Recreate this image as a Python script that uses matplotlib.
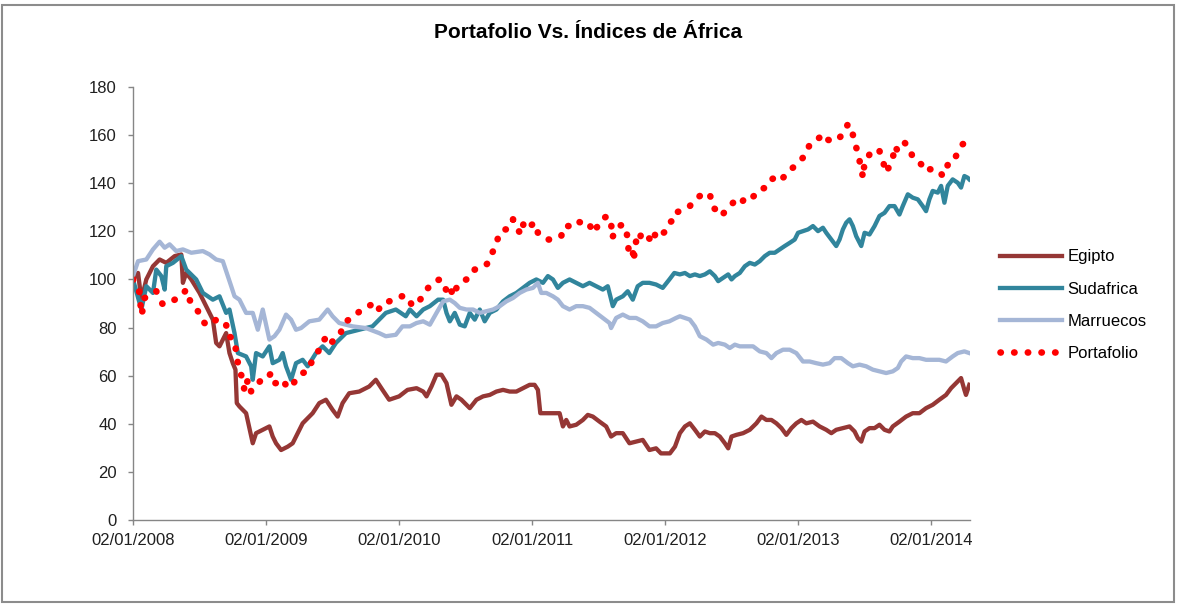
import matplotlib
matplotlib.use('Agg')
import matplotlib.pyplot as plt
from matplotlib.patches import Rectangle

plt.rcParams['font.family'] = ['Liberation Sans', 'DejaVu Sans']

# fechas en años decimales (0 = 02/01/2008), valores base 100
egipto_t = [2008.000, 2008.038, 2008.063, 2008.100, 2008.150, 2008.200, 2008.250, 2008.313, 2008.363,
            2008.375, 2008.400, 2008.438, 2008.500, 2008.550, 2008.600, 2008.625, 2008.650, 2008.700,
            2008.725, 2008.750, 2008.770, 2008.780, 2008.800, 2008.850, 2008.900, 2008.925, 2008.975,
            2009.025, 2009.050, 2009.075, 2009.113, 2009.163, 2009.200, 2009.238, 2009.275, 2009.350,
            2009.400, 2009.450, 2009.500, 2009.538, 2009.575, 2009.625, 2009.700, 2009.775, 2009.825,
            2009.875, 2009.925, 2010.000, 2010.063, 2010.131, 2010.181, 2010.206, 2010.243, 2010.281,
            2010.318, 2010.356, 2010.393, 2010.431, 2010.468, 2010.506, 2010.531, 2010.581, 2010.631,
            2010.681, 2010.731, 2010.781, 2010.831, 2010.881, 2010.931, 2010.981, 2011.018, 2011.043,
            2011.061, 2011.206, 2011.231, 2011.256, 2011.281, 2011.331, 2011.381, 2011.418, 2011.456,
            2011.506, 2011.556, 2011.593, 2011.631, 2011.681, 2011.731, 2011.781, 2011.831, 2011.881,
            2011.931, 2011.968, 2012.006, 2012.035, 2012.073, 2012.110, 2012.148, 2012.185, 2012.223,
            2012.260, 2012.298, 2012.335, 2012.373, 2012.410, 2012.448, 2012.473, 2012.498, 2012.535,
            2012.585, 2012.635, 2012.685, 2012.723, 2012.760, 2012.798, 2012.835, 2012.873, 2012.910,
            2012.948, 2012.985, 2013.023, 2013.060, 2013.110, 2013.160, 2013.210, 2013.248, 2013.285,
            2013.335, 2013.385, 2013.423, 2013.448, 2013.473, 2013.498, 2013.535, 2013.573, 2013.610,
            2013.648, 2013.685, 2013.710, 2013.760, 2013.810, 2013.860, 2013.910, 2013.960, 2014.010,
            2014.060, 2014.110, 2014.148, 2014.185, 2014.223, 2014.248, 2014.260, 2014.285]
egipto_v = [100.0, 102.7, 91.6, 100.0, 105.5, 108.3, 106.9, 109.7, 110.4,
            98.6, 102.7, 100.0, 94.4, 88.9, 83.3, 73.6, 72.2, 77.7,
            69.4, 65.2, 62.5, 48.6, 47.2, 44.4, 31.9, 36.1, 37.5,
            38.9, 34.7, 31.9, 29.1, 30.5, 31.9, 36.1, 40.2, 44.4,
            48.6, 50.0, 45.8, 43.0, 48.6, 52.7, 53.4, 55.5, 58.3,
            54.1, 50.0, 51.4, 54.1, 54.8, 53.4, 51.4, 55.5, 60.4,
            60.4, 56.9, 47.9, 51.4, 50.0, 47.9, 46.5, 50.0, 51.4,
            52.0, 53.4, 54.1, 53.4, 53.4, 54.8, 56.2, 56.2, 54.1,
            44.4, 44.4, 38.9, 41.6, 38.9, 39.6, 41.6, 43.7, 43.0,
            40.9, 38.9, 34.7, 36.1, 36.1, 31.9, 32.6, 33.3, 29.1,
            29.8, 27.7, 27.7, 27.7, 30.5, 36.1, 38.9, 40.2, 37.5,
            34.7, 36.8, 36.1, 36.1, 34.7, 31.9, 29.8, 34.7, 35.4,
            36.1, 37.5, 40.2, 43.0, 41.6, 41.6, 40.2, 38.2, 35.4,
            38.2, 40.2, 41.6, 40.2, 40.9, 38.9, 37.5, 36.1, 37.5,
            38.2, 38.9, 36.8, 34.0, 32.6, 36.8, 38.2, 38.2, 39.6,
            37.5, 36.8, 38.9, 40.9, 43.0, 44.4, 44.4, 46.5, 47.9,
            50.0, 52.0, 54.8, 56.9, 59.0, 54.1, 52.0, 56.2]

sudafrica_t = [2008.000, 2008.063, 2008.100, 2008.150, 2008.175, 2008.213, 2008.238, 2008.250, 2008.300,
               2008.363, 2008.400, 2008.475, 2008.525, 2008.600, 2008.650, 2008.700, 2008.725, 2008.763,
               2008.788, 2008.850, 2008.888, 2008.900, 2008.925, 2008.975, 2009.025, 2009.050, 2009.100,
               2009.125, 2009.150, 2009.188, 2009.225, 2009.275, 2009.313, 2009.375, 2009.425, 2009.475,
               2009.525, 2009.600, 2009.700, 2009.800, 2009.900, 2009.975, 2010.050, 2010.081, 2010.131,
               2010.181, 2010.231, 2010.293, 2010.331, 2010.356, 2010.381, 2010.418, 2010.456, 2010.493,
               2010.531, 2010.568, 2010.606, 2010.643, 2010.681, 2010.731, 2010.781, 2010.831, 2010.881,
               2010.931, 2010.981, 2011.031, 2011.081, 2011.118, 2011.156, 2011.193, 2011.231, 2011.281,
               2011.331, 2011.381, 2011.431, 2011.481, 2011.531, 2011.568, 2011.606, 2011.631, 2011.681,
               2011.718, 2011.756, 2011.793, 2011.831, 2011.881, 2011.931, 2011.981, 2012.031, 2012.068,
               2012.110, 2012.148, 2012.185, 2012.223, 2012.260, 2012.298, 2012.335, 2012.373, 2012.398,
               2012.435, 2012.473, 2012.498, 2012.523, 2012.560, 2012.598, 2012.635, 2012.673, 2012.710,
               2012.748, 2012.785, 2012.823, 2012.860, 2012.898, 2012.935, 2012.973, 2012.998, 2013.035,
               2013.073, 2013.110, 2013.148, 2013.185, 2013.210, 2013.248, 2013.285, 2013.310, 2013.335,
               2013.360, 2013.385, 2013.410, 2013.435, 2013.473, 2013.498, 2013.535, 2013.573, 2013.610,
               2013.648, 2013.685, 2013.723, 2013.760, 2013.785, 2013.823, 2013.860, 2013.898, 2013.935,
               2013.960, 2013.985, 2014.010, 2014.048, 2014.073, 2014.098, 2014.123, 2014.160, 2014.198,
               2014.223, 2014.248, 2014.273, 2014.285]
sudafrica_v = [100.0, 87.5, 97.2, 94.4, 104.1, 101.4, 95.8, 105.5, 106.9,
               109.7, 104.1, 100.0, 94.4, 91.6, 93.0, 86.1, 87.5, 77.7,
               69.4, 68.0, 63.9, 58.3, 69.4, 68.0, 72.2, 65.2, 66.6,
               69.4, 63.9, 58.3, 65.2, 66.6, 63.9, 69.4, 72.2, 69.4,
               73.6, 77.7, 79.1, 80.5, 86.1, 87.5, 84.7, 87.5, 84.7,
               87.5, 88.9, 91.6, 91.6, 86.1, 82.6, 86.1, 81.2, 80.5,
               86.1, 83.3, 87.5, 82.6, 86.1, 87.5, 90.9, 93.0, 94.4,
               96.5, 98.6, 100.0, 98.6, 101.4, 100.0, 96.5, 98.6, 100.0,
               98.6, 97.2, 98.6, 97.2, 95.8, 97.2, 88.9, 91.6, 93.0,
               95.1, 91.6, 97.2, 98.6, 98.6, 97.9, 96.5, 100.0, 102.7,
               102.1, 102.7, 101.4, 102.1, 101.4, 102.1, 103.4, 101.4, 99.3,
               100.7, 102.1, 100.0, 101.4, 102.7, 105.5, 106.9, 106.2, 107.6,
               109.7, 111.1, 111.1, 112.5, 113.9, 115.2, 116.6, 119.4, 120.1,
               120.8, 122.2, 120.1, 121.5, 119.4, 116.6, 113.9, 116.6, 120.8,
               123.6, 125.0, 122.2, 118.0, 113.9, 119.4, 118.7, 122.2, 126.4,
               127.7, 130.5, 130.5, 127.0, 130.5, 135.4, 134.0, 133.3, 130.5,
               128.4, 133.3, 136.8, 136.1, 138.9, 131.9, 138.9, 141.6, 140.2,
               138.2, 143.0, 142.3, 141.6]

marruecos_t = [2008.000, 2008.038, 2008.100, 2008.150, 2008.200, 2008.238, 2008.275, 2008.325, 2008.375,
               2008.438, 2008.525, 2008.575, 2008.625, 2008.675, 2008.713, 2008.738, 2008.763, 2008.800,
               2008.825, 2008.850, 2008.900, 2008.938, 2008.975, 2009.025, 2009.063, 2009.100, 2009.150,
               2009.188, 2009.225, 2009.263, 2009.325, 2009.400, 2009.463, 2009.500, 2009.550, 2009.650,
               2009.750, 2009.850, 2009.900, 2009.975, 2010.025, 2010.081, 2010.131, 2010.181, 2010.231,
               2010.281, 2010.331, 2010.381, 2010.418, 2010.456, 2010.506, 2010.556, 2010.606, 2010.656,
               2010.706, 2010.756, 2010.806, 2010.856, 2010.906, 2010.956, 2011.006, 2011.043, 2011.068,
               2011.106, 2011.156, 2011.193, 2011.231, 2011.281, 2011.331, 2011.381, 2011.431, 2011.481,
               2011.531, 2011.581, 2011.593, 2011.631, 2011.681, 2011.731, 2011.781, 2011.831, 2011.881,
               2011.931, 2011.981, 2012.031, 2012.081, 2012.110, 2012.148, 2012.185, 2012.223, 2012.260,
               2012.310, 2012.360, 2012.398, 2012.448, 2012.485, 2012.523, 2012.560, 2012.610, 2012.660,
               2012.710, 2012.760, 2012.798, 2012.835, 2012.885, 2012.935, 2012.985, 2013.035, 2013.085,
               2013.135, 2013.185, 2013.235, 2013.273, 2013.323, 2013.373, 2013.410, 2013.460, 2013.510,
               2013.560, 2013.610, 2013.660, 2013.710, 2013.748, 2013.773, 2013.810, 2013.860, 2013.910,
               2013.960, 2014.010, 2014.060, 2014.110, 2014.160, 2014.198, 2014.248, 2014.285]
marruecos_v = [101.4, 107.6, 108.3, 112.5, 115.7, 113.2, 114.6, 111.8, 112.5,
               111.1, 111.8, 110.4, 108.3, 107.6, 101.4, 97.2, 93.0, 91.6,
               88.9, 86.1, 86.1, 79.1, 87.5, 75.0, 76.4, 79.1, 85.4,
               83.3, 79.1, 79.8, 82.6, 83.3, 87.5, 84.7, 81.9, 80.5,
               79.8, 77.7, 76.4, 77.0, 80.5, 80.5, 81.9, 82.6, 81.2,
               86.1, 90.9, 91.6, 90.2, 88.2, 87.5, 87.5, 86.1, 86.8,
               87.5, 88.9, 90.9, 92.3, 94.4, 95.8, 96.5, 98.6, 94.4,
               94.4, 93.0, 91.6, 88.9, 87.5, 88.9, 88.9, 88.2, 86.1,
               84.0, 81.9, 79.8, 84.0, 85.4, 84.0, 84.0, 82.6, 80.5,
               80.5, 81.9, 82.6, 84.0, 84.7, 84.0, 83.3, 80.5, 76.4,
               75.0, 72.9, 73.6, 72.9, 71.5, 72.9, 72.2, 72.2, 72.2,
               70.1, 69.4, 67.3, 69.4, 70.8, 70.8, 69.4, 65.9, 65.9,
               65.2, 64.6, 65.2, 67.3, 67.3, 65.2, 63.9, 64.6, 63.9,
               62.5, 61.8, 61.1, 61.8, 63.2, 65.9, 68.0, 67.3, 67.3,
               66.6, 66.6, 66.6, 65.9, 68.0, 69.4, 70.1, 69.4]

portafolio_t = [2008.000, 2008.045, 2008.055, 2008.065, 2008.088, 2008.113, 2008.138, 2008.175, 2008.200,
                2008.225, 2008.275, 2008.313, 2008.363, 2008.400, 2008.425, 2008.450, 2008.488, 2008.513,
                2008.550, 2008.588, 2008.625, 2008.663, 2008.700, 2008.713, 2008.750, 2008.770, 2008.780,
                2008.795, 2008.805, 2008.825, 2008.838, 2008.863, 2008.888, 2008.925, 2008.963, 2009.000,
                2009.038, 2009.063, 2009.100, 2009.125, 2009.163, 2009.200, 2009.238, 2009.275, 2009.313,
                2009.338, 2009.375, 2009.400, 2009.425, 2009.463, 2009.488, 2009.513, 2009.550, 2009.575,
                2009.600, 2009.650, 2009.688, 2009.725, 2009.763, 2009.800, 2009.838, 2009.875, 2009.925,
                2009.963, 2010.013, 2010.063, 2010.093, 2010.118, 2010.168, 2010.206, 2010.243, 2010.268,
                2010.306, 2010.331, 2010.356, 2010.381, 2010.406, 2010.431, 2010.468, 2010.506, 2010.531,
                2010.568, 2010.606, 2010.643, 2010.668, 2010.693, 2010.726, 2010.743, 2010.781, 2010.818,
                2010.856, 2010.881, 2010.918, 2010.936, 2010.968, 2011.018, 2011.043, 2011.081, 2011.106,
                2011.143, 2011.181, 2011.218, 2011.243, 2011.293, 2011.331, 2011.368, 2011.406, 2011.431,
                2011.456, 2011.493, 2011.518, 2011.568, 2011.593, 2011.601, 2011.631, 2011.656, 2011.681,
                2011.706, 2011.718, 2011.726, 2011.756, 2011.761, 2011.781, 2011.806, 2011.818, 2011.856,
                2011.906, 2011.931, 2011.968, 2012.006, 2012.031, 2012.068, 2012.073, 2012.110, 2012.148,
                2012.185, 2012.223, 2012.260, 2012.298, 2012.335, 2012.360, 2012.398, 2012.423, 2012.460,
                2012.498, 2012.535, 2012.573, 2012.610, 2012.648, 2012.685, 2012.710, 2012.760, 2012.798,
                2012.823, 2012.860, 2012.898, 2012.923, 2012.960, 2012.998, 2013.023, 2013.060, 2013.085,
                2013.123, 2013.160, 2013.185, 2013.210, 2013.248, 2013.285, 2013.335, 2013.373, 2013.398,
                2013.423, 2013.448, 2013.460, 2013.473, 2013.485, 2013.498, 2013.523, 2013.548, 2013.585,
                2013.610, 2013.635, 2013.660, 2013.685, 2013.710, 2013.723, 2013.748, 2013.773, 2013.798,
                2013.835, 2013.860, 2013.885, 2013.923, 2013.948, 2013.985, 2014.023, 2014.060, 2014.085,
                2014.110, 2014.135, 2014.173, 2014.198, 2014.235, 2014.273]
portafolio_v = [100.0, 95.5, 90.5, 85.2, 92.3, 93.0, 94.4, 95.1, 91.6,
                89.6, 90.5, 91.6, 93.0, 95.8, 91.6, 88.9, 86.8, 83.3,
                81.2, 81.2, 83.3, 83.3, 81.2, 76.4, 75.7, 72.2, 66.6,
                64.6, 61.1, 59.0, 53.4, 58.3, 53.4, 55.5, 58.3, 58.3,
                61.1, 56.9, 56.9, 58.3, 54.8, 56.2, 59.7, 61.1, 61.8,
                65.2, 68.7, 70.8, 74.3, 76.4, 73.6, 75.0, 76.4, 79.8,
                82.6, 84.0, 86.1, 87.5, 88.9, 89.6, 86.8, 90.2, 90.9,
                91.6, 93.0, 93.0, 89.6, 88.9, 92.3, 95.8, 97.9, 99.3,
                100.0, 99.3, 95.1, 97.2, 93.0, 96.5, 99.3, 100.0, 100.7,
                104.1, 104.8, 105.5, 106.9, 110.4, 113.9, 117.3, 120.8, 120.8,
                125.0, 121.5, 118.7, 123.6, 121.5, 123.6, 119.4, 118.0, 116.6,
                116.6, 117.3, 118.0, 122.2, 122.2, 124.3, 123.6, 122.2, 122.9,
                119.4, 122.2, 125.0, 126.4, 123.6, 117.3, 120.8, 122.2, 122.9,
                120.8, 116.6, 111.1, 112.5, 107.6, 115.9, 114.6, 119.4, 118.7,
                115.2, 120.1, 118.7, 120.1, 123.6, 125.0, 127.7, 128.4, 129.8,
                130.5, 133.3, 134.7, 134.0, 135.4, 129.8, 128.4, 126.4, 129.1,
                131.2, 133.3, 131.9, 134.7, 134.0, 135.4, 137.5, 138.2, 141.6,
                142.3, 140.9, 143.0, 145.1, 146.5, 148.6, 150.0, 152.0, 156.2,
                157.6, 159.0, 160.4, 158.3, 157.6, 157.6, 160.4, 164.6, 163.2,
                156.9, 152.7, 149.3, 147.2, 142.3, 148.6, 150.7, 153.4, 154.1,
                153.4, 149.3, 144.4, 147.2, 150.0, 155.5, 153.4, 154.8, 156.9,
                154.8, 150.7, 149.3, 147.9, 145.1, 145.8, 145.8, 145.1, 143.0,
                145.8, 149.3, 150.0, 152.7, 156.2, 157.6]

year_ticks = [2008, 2009, 2010, 2011, 2012, 2013, 2014]
year_labels = ['02/01/2008', '02/01/2009', '02/01/2010', '02/01/2011',
               '02/01/2012', '02/01/2013', '02/01/2014']

fig = plt.figure(figsize=(11.77, 6.06), dpi=100)
ax = fig.add_axes([0.1130, 0.1419, 0.7111, 0.7145])

ax.plot(egipto_t, egipto_v, color='#953735', lw=3.1, label='Egipto', solid_joinstyle='round')
ax.plot(sudafrica_t, sudafrica_v, color='#31859C', lw=3.1, label='Sudafrica', solid_joinstyle='round')
ax.plot(marruecos_t, marruecos_v, color='#A5B6D6', lw=3.1, label='Marruecos', solid_joinstyle='round')
ax.plot(portafolio_t, portafolio_v, color='#FF0000', lw=4.8, linestyle=(0, (0.05, 2.0)),
        dash_capstyle='round', label='Portafolio')

ax.set_xlim(2008.0, 2014.29)
ax.set_ylim(0, 180)
ax.set_yticks(range(0, 181, 20))
ax.set_xticks(year_ticks)
ax.set_xticklabels(year_labels)

for side in ['top', 'right']:
    ax.spines[side].set_visible(False)
for side in ['left', 'bottom']:
    ax.spines[side].set_color('#868686')
    ax.spines[side].set_linewidth(1.0)
ax.tick_params(axis='both', direction='out', length=3.6, width=1, color='#868686',
               labelsize=12, labelcolor='#202020')
ax.tick_params(axis='y', pad=8)
ax.tick_params(axis='x', pad=6)

fig.text(0.5, 1 - 33 / 606, 'Portafolio Vs. Índices de África', ha='center', va='center',
         fontsize=15, fontweight='bold')

fig.legend(loc='center left', bbox_to_anchor=(1000 / 1177, 1 - 305 / 606), frameon=False,
           fontsize=12, handlelength=3.7, handletextpad=0.36, labelspacing=1.02, borderpad=0,
           borderaxespad=0)

fig.patches.append(Rectangle((2 / 1177, 4 / 606), 1172 / 1177, 597 / 606, transform=fig.transFigure,
                             fill=False, edgecolor='#8c8c8c', lw=1.5))

fig.savefig('out.png', dpi=100)
plt.close(fig)
